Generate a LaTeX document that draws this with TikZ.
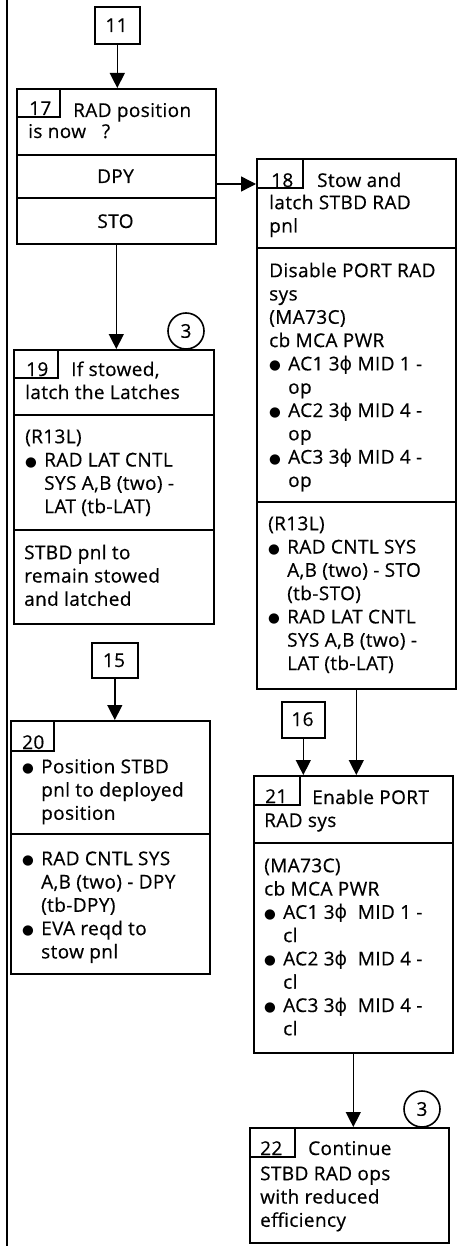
\documentclass[tikz,border=0pt]{standalone}
\usepackage{fontspec}
\setmainfont{Open Sans}[FakeBold=0.5,LetterSpace=2]
\newfontfamily\dejavu{DejaVu Sans}
\usetikzlibrary{arrows.meta}
\newcommand{\phisym}{{\dejavu ϕ}}
\newcommand{\bul}{\makebox[19pt][l]{\raisebox{0.5pt}{\dejavu\fontsize{13.5}{13}\selectfont ●}}}
\newcommand{\ind}{\makebox[19pt]{}}
\newcommand{\fs}{\rule{0pt}{17pt}}
\begin{document}
\begin{tikzpicture}[x=1pt,y=-1pt,
  box/.style={draw, line width=1.6pt, rectangle, inner sep=0pt, anchor=north west},
  divl/.style={line width=1.6pt},
  txt/.style={inner sep=0pt, anchor=north west, align=left, font=\fontsize{19}{23.3}\selectfont},
  lin/.style={inner sep=0pt, anchor=base west, font=\fontsize{19}{23.3}\selectfont},
  ctr/.style={inner sep=0pt, anchor=base, font=\fontsize{19}{23.3}\selectfont},
  arr/.style={line width=1.4pt, -{Triangle[length=15pt,width=15pt]}},
  conn/.style={draw, circle, line width=1.6pt, minimum size=36pt, inner sep=0pt, font=\fontsize{19}{20}\selectfont}]
\useasboundingbox (0,0) rectangle (459,1246);
\draw[line width=2pt] (7,0) -- (7,1246);

% off-page connectors
\node[box, minimum width=45pt, minimum height=37pt] (b11) at (94,6) {};
\node[ctr] (t11) at (116.5,32) {11};
\node[box, minimum width=46pt, minimum height=35pt] (b15) at (91,642) {};
\node[ctr] (t15) at (114,667) {15};
\node[box, minimum width=43pt, minimum height=36pt] (b16) at (281,701) {};
\node[ctr] (t16) at (302.5,726) {16};

% box 17
\node[box, minimum width=199pt, minimum height=155pt] (b17) at (16,88) {};
\draw[divl] (16,155) -- (215,155);
\draw[divl] (16,198) -- (215,198);
\draw[divl] (16,117) -| (60,88);
\node[lin] (n17) at (29,115) {17};
\node[lin] (t17a) at (73,117) {RAD position};
\node[lin] (t17b) at (28,138) {is now\ \ \ ?};
\node[ctr] (dpy) at (115.5,183) {DPY};
\node[ctr] (sto) at (115.5,228) {STO};
\coordinate (a18) at (0,184);

% box 18
\node[box, minimum width=199pt, minimum height=530pt] (b18) at (256,158) {};
\draw[divl] (256,188) -| (303,158);
\draw[divl] (256,248) -- (455,248);
\draw[divl] (256,502) -- (455,502);
\node[lin] (n18) at (271,187) {18};
\node[lin] (t18a) at (317,187) {Stow and};
\node[txt] (t18b) at (269,192) {\fs latch STBD RAD\\pnl};
\node[txt] (t18c) at (269,260) {\fs Disable PORT RAD\\sys\\(MA73C)\\cb MCA PWR\\\bul AC1 3\phisym\ MID 1 -\\\ind op\\\bul AC2 3\phisym\ MID 4 -\\\ind op\\\bul AC3 3\phisym\ MID 4 -\\\ind op};
\node[txt] (t18d) at (268,513) {\fs (R13L)\\\bul RAD CNTL SYS\\\ind A,B (two) - STO\\\ind (tb-STO)\\\bul RAD LAT CNTL\\\ind SYS A,B (two) -\\\ind LAT (tb-LAT)};

% box 19
\node[conn] (c3a) at (186,331) {3};
\node[box, minimum width=200pt, minimum height=274pt] (b19) at (13,349) {};
\draw[divl] (13,378) -| (58,349);
\draw[divl] (13,415) -- (213,415);
\draw[divl] (13,530) -- (213,530);
\node[lin] (n19) at (26,376) {19};
\node[lin] (t19a) at (71,376) {If stowed,};
\node[lin] (t19b) at (25,399) {latch the Latches};
\node[txt] (t19c) at (25,426) {\fs (R13L)\\\bul RAD LAT CNTL\\\ind SYS A,B (two) -\\\ind LAT (tb-LAT)};
\node[txt] (t19d) at (24,542) {\fs STBD pnl to\\remain stowed\\and latched};

% box 20
\node[box, minimum width=199pt, minimum height=253pt] (b20) at (10,720) {};
\draw[divl] (10,751) -| (54,720);
\draw[divl] (10,834) -- (209,834);
\node[lin] (n20) at (22,749) {20};
\node[txt] (t20a) at (22,756) {\fs \bul Position STBD\\\ind pnl to deployed\\\ind position};
\node[txt] (t20b) at (22,848) {\fs \bul RAD CNTL SYS\\\ind A,B (two) - DPY\\\ind (tb-DPY)\\\bul EVA reqd to\\\ind stow pnl};

% box 21
\node[box, minimum width=199pt, minimum height=277pt] (b21) at (253,775) {};
\draw[divl] (253,805) -| (300,775);
\draw[divl] (253,843) -- (452,843);
\node[lin] (n21) at (265,803) {21};
\node[lin] (t21a) at (312,804) {Enable PORT};
\node[lin] (t21b) at (264,827) {RAD sys};
\node[txt] (t21c) at (264,855) {\fs (MA73C)\\cb MCA PWR\\\bul AC1 3\phisym\ \ MID 1 -\\\ind cl\\\bul AC2 3\phisym\ \ MID 4 -\\\ind cl\\\bul AC3 3\phisym\ \ MID 4 -\\\ind cl};

% box 22
\node[conn] (c3b) at (422,1109) {3};
\node[box, minimum width=199pt, minimum height=115pt] (b22) at (249,1127) {};
\draw[divl] (249,1157) -| (295,1127);
\node[lin] (n22) at (260,1155) {22};
\node[lin] (t22a) at (308,1155) {Continue};
\node[txt] (t22b) at (260,1163) {\fs STBD RAD ops\\with reduced\\efficiency};

% connectors
\draw[arr] (b11.south) -- (b11.south |- b17.north);
\draw[arr] (b17.east |- a18) -- (b18.west |- a18);
\draw[arr] (b17.south) -- (b17.south |- b19.north);
\draw[arr] (b15.south) -- (b15.south |- b20.north);
\draw[arr] (b16.south) -- (b16.south |- b21.north);
\draw[arr] (b18.south) -- (b18.south |- b21.north);
\draw[arr] (b21.south) -- (b21.south |- b22.north);
\end{tikzpicture}
\end{document}
